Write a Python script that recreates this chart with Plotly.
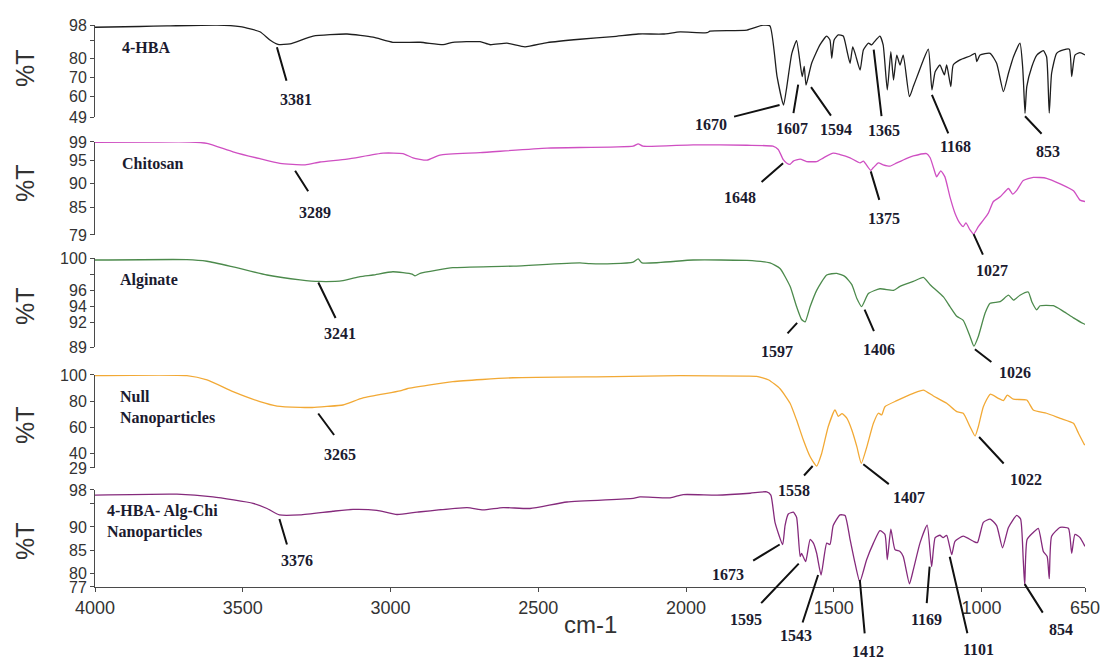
import plotly.graph_objects as go

# ---------------- FTIR spectra: wavenumber (cm-1) and transmittance (%T) ----------------
hba_wn = [4000, 3850, 3756, 3587, 3509, 3442, 3408, 3381, 3340, 3262, 3147, 3059, 2992, 2900, 2822, 2789,
          2697, 2663, 2606, 2545, 2470, 2359, 2247, 2162, 2078, 2020, 1929, 1919, 1794, 1740, 1716, 1692,
          1670, 1659, 1642, 1626, 1607, 1600, 1594, 1575, 1547, 1524, 1513, 1507, 1499, 1485, 1468, 1456,
          1445, 1436, 1428, 1411, 1400, 1383, 1372, 1365, 1344, 1333, 1319, 1307, 1298, 1287, 1276, 1265,
          1244, 1231, 1214, 1197, 1180, 1168, 1157, 1141, 1126, 1118, 1104, 1096, 1073, 1039, 1022, 1016,
          1005, 971, 949, 926, 909, 892, 870, 861, 858, 853, 847, 830, 813, 791, 780, 771, 763, 746, 723,
          703, 695, 684, 667, 650]
hba_t = [96.8, 97.2, 97.5, 98.0, 97.1, 94.4, 90.0, 87.7, 87.9, 92.1, 93.2, 91.5, 88.8, 88.8, 87.5, 88.8,
         89.1, 87.5, 88.3, 86.4, 88.6, 90.4, 91.8, 93.2, 93.2, 94.3, 93.9, 94.7, 95.3, 97.9, 97.5, 70.5,
         55.4, 65.2, 82.9, 89.6, 70.5, 76.0, 66.0, 77.6, 87.4, 92.1, 90.0, 80.3, 90.0, 92.7, 92.1, 84.7,
         77.6, 86.4, 82.9, 74.0, 84.7, 88.3, 87.4, 88.6, 92.1, 87.4, 63.4, 83.8, 68.7, 82.0, 76.7, 82.0,
         59.8, 65.2, 72.3, 79.4, 85.1, 63.4, 73.1, 76.7, 71.4, 76.7, 65.2, 76.7, 79.4, 81.5, 82.9, 78.5,
         82.0, 82.9, 77.6, 62.5, 72.3, 81.1, 88.3, 75.8, 67.0, 51.0, 65.2, 75.8, 82.0, 84.3, 81.1, 51.1,
         72.3, 82.9, 84.7, 85.1, 70.5, 82.0, 83.3, 82.0]

chi_wn = [4000, 3800, 3679, 3621, 3533, 3442, 3374, 3289, 3239, 3147, 3025, 2958, 2924, 2877, 2833, 2697,
          2470, 2179, 2162, 2146, 1976, 1794, 1706, 1688, 1671, 1660, 1648, 1637, 1614, 1592, 1558, 1535,
          1502, 1479, 1445, 1411, 1400, 1375, 1366, 1349, 1333, 1310, 1287, 1253, 1231, 1186, 1174, 1157,
          1152, 1138, 1124, 1107, 1090, 1073, 1062, 1053, 1039, 1027, 1011, 994, 977, 960, 937, 909, 895,
          881, 859, 825, 780, 734, 689, 667, 650]
chi_t = [98.9, 99.0, 99.0, 98.7, 96.9, 95.4, 94.4, 94.1, 94.7, 95.3, 96.6, 96.5, 95.6, 95.1, 96.2, 96.7,
         97.7, 98.1, 98.6, 98.1, 98.4, 98.3, 98.1, 97.4, 95.2, 94.5, 94.2, 94.9, 95.3, 94.8, 94.8, 95.6,
         96.6, 96.3, 95.6, 94.5, 94.9, 92.9, 93.5, 94.5, 94.1, 93.8, 94.5, 95.5, 96.0, 96.5, 95.6, 92.3,
         91.5, 92.8, 91.5, 87.2, 83.7, 81.5, 80.8, 81.6, 80.1, 79.2, 80.8, 82.2, 83.7, 86.2, 87.2, 89.0, 87.8,
         88.6, 90.7, 91.4, 91.2, 90.0, 88.5, 86.5, 86.2]

alg_wn = [4000, 3689, 3621, 3533, 3418, 3306, 3241, 3161, 3103, 3059, 2992, 2927, 2917, 2900, 2843, 2789,
          2585, 2359, 2325, 2247, 2179, 2162, 2149, 1976, 1794, 1716, 1682, 1648, 1626, 1609, 1597, 1580,
          1558, 1524, 1490, 1462, 1439, 1422, 1406, 1383, 1344, 1298, 1276, 1231, 1197, 1174, 1129, 1107,
          1084, 1062, 1039, 1026, 1011, 988, 971, 937, 909, 892, 870, 842, 830, 813, 802, 757, 723, 689,
          656, 650]
alg_t = [99.75, 99.8, 99.6, 98.9, 97.9, 97.3, 97.1, 97.2, 97.7, 97.9, 98.3, 98.0, 97.8, 98.1, 98.5, 98.8,
         99.0, 99.4, 99.3, 99.3, 99.5, 99.9, 99.4, 99.75, 99.7, 99.4, 98.7, 96.5, 94.0, 92.4, 92.1, 94.0,
         96.0, 97.9, 98.1, 97.7, 96.7, 95.0, 94.0, 95.6, 96.2, 96.0, 96.5, 97.1, 97.6, 96.7, 95.2, 94.0,
         92.8, 92.3, 90.3, 89.1, 90.3, 93.2, 94.4, 94.6, 95.4, 94.8, 95.4, 95.8, 94.6, 93.6, 94.1, 94.1,
         93.4, 92.6, 91.9, 91.8]

null_wn = [4000, 3689, 3621, 3533, 3442, 3384, 3306, 3265, 3215, 3161, 3093, 2968, 2944, 2789, 2585, 2247,
           2020, 1794, 1761, 1720, 1682, 1648, 1626, 1603, 1580, 1558, 1541, 1519, 1496, 1485, 1472, 1456,
           1439, 1422, 1407, 1388, 1366, 1349, 1338, 1327, 1287, 1231, 1197, 1163, 1118, 1084, 1062, 1039,
           1022, 1011, 994, 971, 943, 926, 913, 892, 847, 825, 780, 734, 689, 672, 653, 650]
null_t = [99.5, 99.5, 96.2, 87.3, 79.7, 76.3, 75.3, 75.2, 76.0, 77.1, 82.5, 87.8, 89.5, 94.9, 97.9, 98.7,
          99.5, 99.2, 99.0, 96.2, 89.5, 78.4, 65.6, 50.4, 37.6, 30.5, 40.2, 60.5, 73.3, 68.5, 70.5, 67.0,
          58.0, 45.3, 32.6, 45.3, 63.1, 70.8, 69.5, 75.8, 80.4, 86.0, 88.5, 84.0, 78.4, 72.0, 70.8, 60.5,
          53.4, 60.5, 75.8, 85.3, 82.2, 80.4, 84.7, 81.5, 80.9, 73.3, 70.8, 66.9, 63.1, 55.5, 47.3, 46.5]

np_wn = [4000, 3723, 3601, 3465, 3418, 3376, 3306, 3195, 3127, 3046, 2978, 2910, 2741, 2687, 2619, 2528,
         2403, 2179, 2156, 2054, 2010, 1895, 1783, 1727, 1713, 1699, 1673, 1665, 1654, 1637, 1626, 1614,
         1609, 1603, 1595, 1580, 1569, 1558, 1543, 1524, 1513, 1502, 1479, 1462, 1445, 1428, 1412, 1389,
         1366, 1344, 1327, 1319, 1307, 1293, 1276, 1265, 1244, 1231, 1208, 1184, 1169, 1157, 1141, 1130,
         1118, 1101, 1090, 1062, 1028, 1014, 994, 971, 949, 929, 909, 881, 868, 859, 854, 846, 825, 808,
         791, 778, 771, 763, 734, 706, 695, 684, 667, 650]
np_t = [96.9, 97.1, 96.5, 95.1, 94.0, 92.6, 92.6, 93.4, 93.8, 93.6, 92.7, 93.2, 94.2, 93.7, 94.2, 94.0,
        95.4, 96.2, 96.5, 96.3, 97.0, 96.9, 97.3, 97.6, 96.9, 91.0, 86.2, 90.3, 92.8, 93.2, 92.1, 83.6,
        84.3, 83.5, 82.5, 87.3, 86.5, 84.3, 79.6, 86.5, 86.2, 90.3, 92.6, 92.5, 87.3, 82.1, 78.1, 82.9,
        86.5, 89.2, 88.4, 82.9, 89.5, 85.1, 84.7, 83.6, 77.7, 80.7, 86.6, 90.4, 81.4, 87.7, 88.2, 87.7,
        88.2, 84.0, 86.9, 88.0, 86.9, 86.6, 91.0, 91.7, 90.3, 85.5, 89.9, 92.5, 91.7, 82.9, 77.4, 87.3,
        88.8, 89.7, 84.7, 83.6, 78.8, 88.0, 89.9, 89.7, 84.3, 88.4, 87.7, 85.8]

# sample names
sample_names = ["4-HBA", "Chitosan", "Alginate", "Null<br>Nanoparticles", "4-HBA- Alg-Chi<br>Nanoparticles"]

# y tick values / labels for each panel (blank label = unlabelled tick)
hba_ticks, hba_ticktext = [49, 60, 70, 80, 90, 98], ["49", "60", "70", "80", "", "98"]
chi_ticks, chi_ticktext = [79, 85, 90, 95, 99], ["79", "85", "90", "95", "99"]
alg_ticks, alg_ticktext = [89, 92, 94, 96, 98, 100], ["89", "92", "94", "96", "", "100"]
null_ticks, null_ticktext = [29, 40, 60, 80, 100], ["29", "40", "60", "80", "100"]
np_ticks, np_ticktext = [77, 80, 85, 90, 95, 98], ["77", "80", "85", "90", "", "98"]

x_ticks = [4000, 3500, 3000, 2500, 2000, 1500, 1000, 650]

# labelled band positions (cm-1)
hba_peaks = [3381, 1670, 1607, 1594, 1365, 1168, 853]
chi_peaks = [3289, 1648, 1375, 1027]
alg_peaks = [3241, 1597, 1406, 1026]
null_peaks = [3265, 1558, 1407, 1022]
np_peaks = [3376, 1673, 1595, 1543, 1412, 1169, 1101, 854]

# leader placement in pixels relative to the band point:
# (line start dx, dy), (line end dx, dy), (label centre dx, dy); dy positive = downwards
hba_leaders = [((-1, 3), (9, 38), (18, 55)), ((-4, 0), (-51, 12), (-73, 20)), ((-4, 8), (-9, 38), (-10, 52)),
               ((5, 2), (26, 32), (30, 44)), ((0, 7), (8, 75), (10, 88)), ((0, 5), (17, 45), (24, 57)),
               ((0, 3), (18, 22), (23, 38))]
chi_leaders = [((-10, 6), (4, 28), (10, 48)), ((-7, -1), (-30, 19), (-50, 33)), ((0, 1), (9, 31), (13, 48)),
               ((0, 0), (10, 22), (18, 36))]
alg_leaders = [((-1, 1), (17, 38), (21, 52)), ((-8, 1), (-19, 13), (-28, 30)), ((3, 3), (13, 26), (17, 43)),
               ((1, 3), (19, 17), (41, 26))]
null_leaders = [((6, 6), (23, 29), (28, 47)), ((-4, 0), (-14, 11), (-23, 24)), ((2, 1), (29, 22), (48, 34)),
                ((4, 1), (30, 29), (51, 43))]
np_leaders = [((0, 4), (8, 31), (18, 46)), ((-3, 0), (-31, 17), (-55, 30)), ((-7, 2), (-46, 43), (-60, 58)),
              ((-3, 0), (-19, 49), (-25, 61)), ((0, -2), (5, 53), (8, 70)), ((-2, 0), (-5, 38), (-5, 53)),
              ((-2, 2), (16, 80), (27, 95)), ((0, -1), (19, 29), (36, 44))]

# ---------------- styling ----------------
W, H = 1103, 660
SANS = "Liberation Sans, Arial, sans-serif"
SERIF = "Liberation Serif, Times New Roman, serif"
AXIS_COLOR = "#4a4a4a"
TEXT_COLOR = "#1b1b2f"

panels = [
    dict(wn=hba_wn, t=hba_t, color="#1e1e1e", rng=[49, 98], tv=hba_ticks, tt=hba_ticktext,
         dom=[0.82273, 0.96212], peaks=hba_peaks, leaders=hba_leaders, name=sample_names[0],
         name_x=0.0253, name_y=0.928, title_y=1 - 68 / H),
    dict(wn=chi_wn, t=chi_t, color="#cf4fc2", rng=[79, 99], tv=chi_ticks, tt=chi_ticktext,
         dom=[0.64394, 0.78485], peaks=chi_peaks, leaders=chi_leaders, name=sample_names[1],
         name_x=0.0253, name_y=1 - 163 / H, title_y=1 - 183 / H),
    dict(wn=alg_wn, t=alg_t, color="#4c8a4c", rng=[89, 100], tv=alg_ticks, tt=alg_ticktext,
         dom=[0.47424, 0.60909], peaks=alg_peaks, leaders=alg_leaders, name=sample_names[2],
         name_x=0.0232, name_y=1 - 280 / H, title_y=1 - 306 / H),
    dict(wn=null_wn, t=null_t, color="#f2a935", rng=[29, 100], tv=null_ticks, tt=null_ticktext,
         dom=[0.29091, 0.43182], peaks=null_peaks, leaders=null_leaders, name=sample_names[3],
         name_x=0.0232, name_y=1 - 407.5 / H, title_y=1 - 425 / H),
    dict(wn=np_wn, t=np_t, color="#852a7c", rng=[77, 98], tv=np_ticks, tt=np_ticktext,
         dom=[0.11061, 0.25758], peaks=np_peaks, leaders=np_leaders, name=sample_names[4],
         name_x=0.0101, name_y=1 - 521.5 / H, title_y=1 - 541 / H),
]

fig = go.Figure()
annotations = []
layout_axes = {}

for i, p in enumerate(panels, start=1):
    ya = "y" if i == 1 else f"y{i}"
    fig.add_trace(go.Scatter(x=p["wn"], y=p["t"], mode="lines", xaxis="x", yaxis=ya,
                             line=dict(color=p["color"], width=1.3, shape="spline", smoothing=0.5),
                             hoverinfo="skip"))

    layout_axes["yaxis" if i == 1 else f"yaxis{i}"] = dict(
        domain=p["dom"], range=p["rng"], anchor="x", side="left",
        tickmode="array", tickvals=p["tv"], ticktext=p["tt"],
        ticks="outside", ticklen=4, tickwidth=1, tickcolor=AXIS_COLOR,
        showline=True, linecolor=AXIS_COLOR, linewidth=1,
        showgrid=False, zeroline=False, automargin=False,
        tickfont=dict(family=SANS, size=16, color="#333333"),
    )

    # "%T" axis caption
    annotations.append(dict(xref="paper", yref="paper", x=-0.0707, y=p["title_y"], text="%T",
                            textangle=-90, showarrow=False, xanchor="center", yanchor="middle",
                            font=dict(family=SANS, size=25, color="#333333")))
    # sample name
    annotations.append(dict(xref="paper", yref="paper", x=p["name_x"], y=p["name_y"], text=p["name"],
                            showarrow=False, xanchor="left", yanchor="middle", align="left",
                            font=dict(family=SERIF, size=16, color=TEXT_COLOR, weight="bold")))

    # band labels with leader lines
    xref, yref = "x", ("y" if i == 1 else f"y{i}")
    for wn, (start, end, label) in zip(p["peaks"], p["leaders"]):
        tval = p["t"][p["wn"].index(wn)]
        annotations.append(dict(xref=xref, yref=yref, x=wn, y=tval, text="",
                                showarrow=True, arrowhead=0, arrowwidth=2, arrowcolor="#111111",
                                axref="pixel", ayref="pixel",
                                ax=end[0] - start[0], ay=end[1] - start[1],
                                xshift=start[0], yshift=-start[1]))
        annotations.append(dict(xref=xref, yref=yref, x=wn, y=tval, text=str(wn), showarrow=False,
                                xanchor="center", yanchor="middle",
                                xshift=label[0], yshift=-label[1],
                                font=dict(family=SERIF, size=16, color=TEXT_COLOR, weight="bold")))

# x-axis caption
annotations.append(dict(xref="paper", yref="paper", x=0.5, y=1 - 624 / H, text="cm-1", showarrow=False,
                        xanchor="center", yanchor="middle",
                        font=dict(family=SANS, size=24, color="#333333")))

fig.update_layout(
    width=W, height=H,
    margin=dict(l=95, r=18, t=0, b=0),
    paper_bgcolor="white", plot_bgcolor="white",
    showlegend=False,
    xaxis=dict(domain=[0, 1], range=[4000, 650], anchor="y5",
               tickmode="array", tickvals=x_ticks,
               ticks="outside", ticklen=4, tickwidth=1, tickcolor=AXIS_COLOR,
               showline=True, linecolor=AXIS_COLOR, linewidth=1,
               showgrid=False, zeroline=False, automargin=False,
               tickfont=dict(family=SANS, size=18, color="#333333")),
    annotations=annotations,
    **layout_axes,
)

fig.write_html("out.html")
